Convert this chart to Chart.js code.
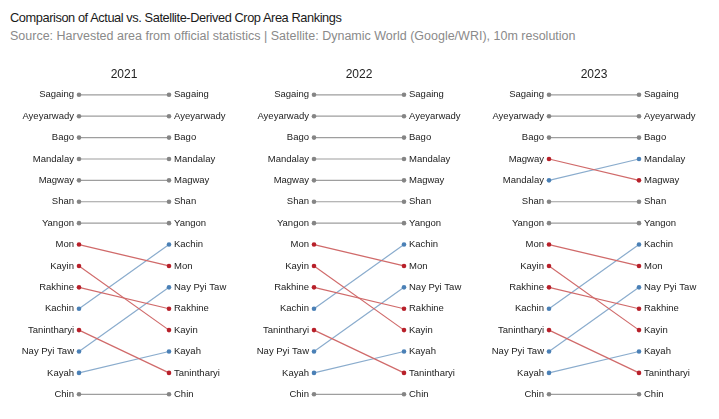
<!DOCTYPE html>
<html>
<head>
<meta charset="utf-8">
<script src="https://cdn.jsdelivr.net/npm/chart.js@4.4.0/dist/chart.umd.min.js"></script>
<style>
  html, body { margin: 0; padding: 0; background: #fff; }
  body { width: 719px; height: 419px; position: relative; overflow: hidden; font-family: "Liberation Sans", Arial, sans-serif; }
  #title { position: absolute; left: 10px; top: 10px; font-size: 12.8px; letter-spacing: -0.42px; color: #1a1a1a; white-space: nowrap; }
  #subtitle { position: absolute; left: 10px; top: 29px; font-size: 12.5px; color: #8a8a8a; white-space: nowrap; }
  .panel { position: absolute; top: 60px; width: 235px; height: 349px; }
</style>
</head>
<body>
<div id="title">Comparison of Actual vs. Satellite-Derived Crop Area Rankings</div>
<div id="subtitle">Source: Harvested area from official statistics | Satellite: Dynamic World (Google/WRI), 10m resolution</div>
<div class="panel" style="left:0px"><canvas id="c0"></canvas></div>
<div class="panel" style="left:235px"><canvas id="c1"></canvas></div>
<div class="panel" style="left:470px"><canvas id="c2"></canvas></div>
<script>
const years = ["2021", "2022", "2023"];

const actual2021 = ["Sagaing","Ayeyarwady","Bago","Mandalay","Magway","Shan","Yangon","Mon","Kayin","Rakhine","Kachin","Tanintharyi","Nay Pyi Taw","Kayah","Chin"];
const satellite2021 = ["Sagaing","Ayeyarwady","Bago","Mandalay","Magway","Shan","Yangon","Kachin","Mon","Nay Pyi Taw","Rakhine","Kayin","Kayah","Tanintharyi","Chin"];

const actual2022 = ["Sagaing","Ayeyarwady","Bago","Mandalay","Magway","Shan","Yangon","Mon","Kayin","Rakhine","Kachin","Tanintharyi","Nay Pyi Taw","Kayah","Chin"];
const satellite2022 = ["Sagaing","Ayeyarwady","Bago","Mandalay","Magway","Shan","Yangon","Kachin","Mon","Nay Pyi Taw","Rakhine","Kayin","Kayah","Tanintharyi","Chin"];

const actual2023 = ["Sagaing","Ayeyarwady","Bago","Magway","Mandalay","Shan","Yangon","Mon","Kayin","Rakhine","Kachin","Tanintharyi","Nay Pyi Taw","Kayah","Chin"];
const satellite2023 = ["Sagaing","Ayeyarwady","Bago","Mandalay","Magway","Shan","Yangon","Kachin","Mon","Nay Pyi Taw","Rakhine","Kayin","Kayah","Tanintharyi","Chin"];

const actualLists = [actual2021, actual2022, actual2023];
const satelliteLists = [satellite2021, satellite2022, satellite2023];

const COL = {
  same: { pt: "#858585", ln: "#9e9e9e" },
  down: { pt: "#b8202a", ln: "#d06a6a" },
  up:   { pt: "#4a80b6", ln: "#8aaccd" }
};

const FONT = { family: "'Liberation Sans', Arial, sans-serif", size: 9.5 };

function makePanel(idx) {
  const act = actualLists[idx];
  const sat = satelliteLists[idx];
  const ranks = act.map((_, i) => i + 1);
  const datasets = act.map((name) => {
    const r1 = act.indexOf(name) + 1;
    const r2 = sat.indexOf(name) + 1;
    const c = r2 === r1 ? COL.same : (r2 > r1 ? COL.down : COL.up);
    return {
      label: name,
      data: [{ x: 0, y: r1 }, { x: 1, y: r2 }],
      borderColor: c.ln,
      backgroundColor: c.pt,
      pointBackgroundColor: c.pt,
      pointBorderColor: c.pt,
      pointRadius: 2.3,
      pointBorderWidth: 0,
      borderWidth: 1.2,
      clip: false,
      yAxisID: "yL"
    };
  });
  const fitL = (s) => { s.width = 79; s.paddingTop = 0; s.paddingBottom = 0; };
  const fitR = (s) => { s.width = 66; s.paddingTop = 0; s.paddingBottom = 0; };
  new Chart(document.getElementById("c" + idx), {
    type: "line",
    data: { datasets },
    options: {
      responsive: true,
      maintainAspectRatio: false,
      animation: false,
      events: [],
      layout: { padding: 0 },
      plugins: {
        legend: { display: false },
        tooltip: { enabled: false },
        title: {
          display: true,
          text: years[idx],
          fullSize: false,
          color: "#222",
          font: { family: FONT.family, size: 12, weight: "normal" },
          padding: { top: 7.5, bottom: 2.2 }
        }
      },
      scales: {
        x: { type: "linear", min: 0, max: 1, display: false },
        yL: {
          type: "linear", position: "left", reverse: true, min: 0.5, max: 15.5,
          afterBuildTicks: (s) => { s.ticks = ranks.map(v => ({ value: v })); },
          afterFit: fitL,
          grid: { display: false, drawTicks: false },
          border: { display: false },
          ticks: { padding: 5, color: "#222", font: FONT, autoSkip: false,
                   callback: (v) => act[v - 1] || "" }
        },
        yR: {
          type: "linear", position: "right", reverse: true, min: 0.5, max: 15.5,
          afterBuildTicks: (s) => { s.ticks = ranks.map(v => ({ value: v })); },
          afterFit: fitR,
          grid: { display: false, drawTicks: false },
          border: { display: false },
          ticks: { padding: 5, color: "#222", font: FONT, autoSkip: false,
                   callback: (v) => sat[v - 1] || "" }
        }
      }
    }
  });
}
[0, 1, 2].forEach(makePanel);
</script>
</body>
</html>
